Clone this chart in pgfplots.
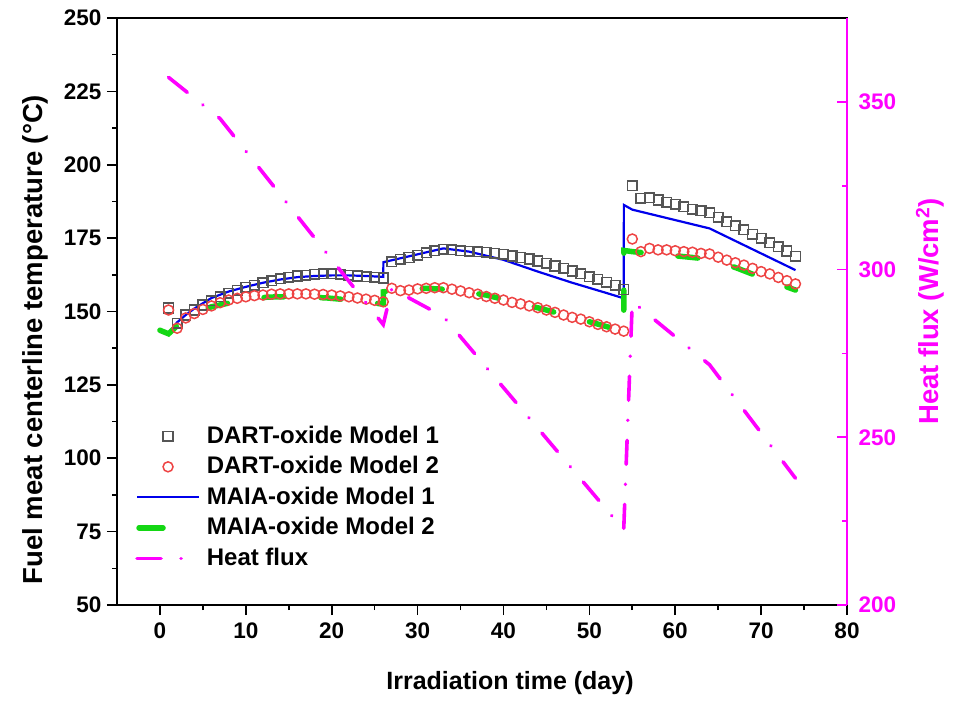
\documentclass[border=0pt]{standalone}
\usepackage{pgfplots}
\pgfplotsset{compat=1.18}
\usepackage{fontspec}
\setmainfont{Liberation Sans}

\definecolor{sqgray}{RGB}{85,85,85}
\definecolor{circred}{RGB}{238,68,68}
\definecolor{maiablue}{RGB}{0,0,235}
\definecolor{maiagreen}{RGB}{20,215,20}
\definecolor{fluxmag}{RGB}{255,0,255}

\newcommand{\tickfont}{\fontsize{22.5}{22.5}\selectfont\bfseries}
\newcommand{\xlabfont}{\fontsize{25}{25}\selectfont\bfseries}
\newcommand{\ylabfont}{\fontsize{27.5}{27.5}\selectfont\bfseries}
\newcommand{\legfont}{\fontsize{24}{24}\selectfont\bfseries}

\pgfplotsset{
  widelegend/.style={legend image code/.code={%
    \draw[mark repeat=2,mark phase=2,##1] plot coordinates {(0pt,0pt) (31pt,0pt) (62pt,0pt)};}},
  shortlegend/.style={legend image code/.code={%
    \draw[##1,solid] (2pt,0pt) -- (26pt,0pt);}},
  fluxstyle/.style={color=fluxmag, line width=3.6pt, line cap=round,
    dash pattern=on 24pt off 20pt on 0.1pt off 20pt},
  common/.style={
    scale only axis, width=730pt, height=587pt,
    xmin=-5, xmax=80,
    /pgf/number format/assume math mode=true,
    axis line style={line width=1.6pt},
    major tick length=10pt, minor tick length=5pt,
    every tick/.style={line width=1.6pt},
    ticklabel style={font=\tickfont},
  },
}

% DART-oxide, model 1
\pgfplotstableread{
t T
1 151.2
2 146.0
3 148.8
4 150.5
5 152.2
6 153.7
7 155.0
8 156.2
9 157.3
10 158.2
11 159.0
12 159.8
13 160.5
14 161.1
15 161.7
16 162.1
17 162.4
18 162.7
19 162.8
20 162.8
21 162.7
22 162.4
23 162.1
24 161.8
25 161.6
26 161.4
27 167.0
28 167.8
29 168.4
30 169.2
31 170.0
32 170.7
33 171.2
34 171.0
35 170.7
36 170.5
37 170.4
38 170.2
39 169.8
40 169.5
41 168.9
42 168.4
43 167.9
44 167.2
45 166.4
46 165.5
47 164.7
48 163.8
49 162.8
50 161.9
51 161.0
52 159.9
53 159.0
54 157.5
55 192.8
56 188.6
57 188.8
58 188.0
59 187.2
60 186.6
61 185.7
62 184.9
63 184.3
64 183.7
65 182.1
66 180.6
67 179.2
68 177.8
69 176.3
70 174.9
71 173.4
72 172.0
73 170.6
74 168.8
}\dartone

% DART-oxide, model 2
\pgfplotstableread{
t T
1 150.5
2 144.3
3 147.8
4 149.3
5 150.7
6 151.9
7 153.0
8 153.9
9 154.5
10 155.0
11 155.4
12 155.6
13 155.9
14 156.0
15 156.0
16 156.0
17 156.0
18 155.9
19 155.8
20 155.6
21 155.3
22 155.0
23 154.6
24 154.2
25 153.8
26 153.3
27 157.9
28 157.1
29 157.3
30 157.7
31 157.9
32 158.1
33 158.1
34 157.6
35 157.0
36 156.4
37 155.9
38 155.1
39 154.5
40 153.9
41 153.1
42 152.6
43 151.9
44 151.3
45 150.5
46 149.7
47 148.8
48 148.0
49 147.4
50 146.5
51 145.6
52 144.8
53 144.0
54 143.3
55 174.7
56 170.4
57 171.5
58 171.0
59 171.0
60 170.7
61 170.4
62 170.2
63 169.8
64 169.6
65 168.5
66 167.5
67 166.6
68 165.8
69 164.7
70 163.6
71 162.8
72 161.6
73 160.5
74 159.4
}\darttwo

% MAIA-oxide, model 1
\pgfplotstableread{
t T
0 143.5
1 142.6
2 146.3
3 148.8
4 151.0
6 154.6
8 156.8
10 158.4
12 159.8
14 160.9
16 161.7
18 162.1
20 162.3
22 162.3
24 162.1
26 161.8
26.02 166.8
33 171.5
36 170.4
40 167.6
44 163.6
48 159.8
52 156.3
54 154.5
54.02 186.3
55 184.7
64 178.3
74 164.1
}\maiaone

% MAIA-oxide, model 2
\pgfplotstableread{
t T
0 143.6
1 142.4
2.5 146.5
4 149.3
6 151.6
9 153.5
12.5 154.9
16 155.1
19.5 154.6
22.5 153.8
26 152.5
26.02 156.7
27.5 157.3
31 157.9
34 157.4
38 155.6
41 153.4
44.5 150.9
47.5 148.5
51 145.7
54 143.2
54.02 170.8
55 170.4
58 169.5
61 168.7
64 167.8
67 165.0
70 161.6
74 157.3
}\maiatwo

% Heat flux (W/cm^2)
\pgfplotstableread{
t q
1 357.3
7 345.0
26 283.6
27 294.3
33 286.0
54 222.4
55 290.5
64 271.6
74 237.8
}\flux

\begin{document}
\begin{tikzpicture}
\begin{axis}[common, name=ax,
  ymin=50, ymax=250,
  xtick={0,10,...,80}, ytick={50,75,...,250},
  minor x tick num=1, minor y tick num=1,
  xtick pos=bottom, ytick pos=left, tick align=outside,
  xticklabel style={yshift=-4pt},
  yticklabel style={xshift=-2pt},
  xlabel={Irradiation time (day)},
  ylabel={Fuel meat centerline temperature (°C)},
  every axis x label/.style={at={(rel axis cs:0.5,0)}, xshift=28pt, yshift=-78pt, anchor=center, font=\xlabfont},
  every axis y label/.style={at={(rel axis cs:0,0.5)}, xshift=-82pt, yshift=-28pt, rotate=90, anchor=center, font=\ylabfont},
  legend cell align=left,
  legend style={draw=none, fill=none, font=\legfont,
    at={(rel axis cs:0.0247,0.306)}, anchor=north west,
    inner xsep=0pt, inner ysep=0pt, row sep=9pt,
    nodes={inner sep=0pt, text height=17.5pt, text depth=4pt},
    /tikz/every odd column/.append style={column sep=6pt}},
]
\addplot[widelegend, only marks, mark=square, mark size=4.8pt,
  mark options={draw=sqgray, line width=1.5pt, fill=none}] table {\dartone};
\addlegendentry{DART-oxide Model 1}
\addplot[widelegend, only marks, mark=o, mark size=5pt,
  mark options={draw=circred, line width=1.5pt, fill=none}] table {\darttwo};
\addlegendentry{DART-oxide Model 2}
\addplot[widelegend, maiablue, line width=2.2pt, no marks] table {\maiaone};
\addlegendentry{MAIA-oxide Model 1}
\addplot[shortlegend, maiagreen, line width=5.5pt, no marks, line cap=round,
  dash pattern=on 20pt off 37pt] table {\maiatwo};
\addlegendentry{MAIA-oxide Model 2}
\addlegendimage{widelegend, fluxstyle}
\addlegendentry{Heat flux}
\end{axis}

\begin{axis}[common,
  ymin=200, ymax=375,
  axis x line=none, axis y line*=right,
  ytick={200,250,300,350}, minor y tick num=1,
  tick align=inside,
  y axis line style={fluxmag},
  every tick/.append style={fluxmag},
  yticklabel style={text=fluxmag, xshift=8pt},
  ylabel={Heat flux (W/cm\textsuperscript{2})},
  every axis y label/.style={at={(rel axis cs:1,0.5)}, xshift=83pt, rotate=90, anchor=center, font=\ylabfont, text=fluxmag},
]
\addplot[fluxstyle, no marks] table {\flux};
\end{axis}

\pgfresetboundingbox
\path[use as bounding box] ([xshift=-117pt,yshift=-95pt]ax.south west) rectangle ([xshift=106pt,yshift=18pt]ax.north east);
\end{tikzpicture}
\end{document}
